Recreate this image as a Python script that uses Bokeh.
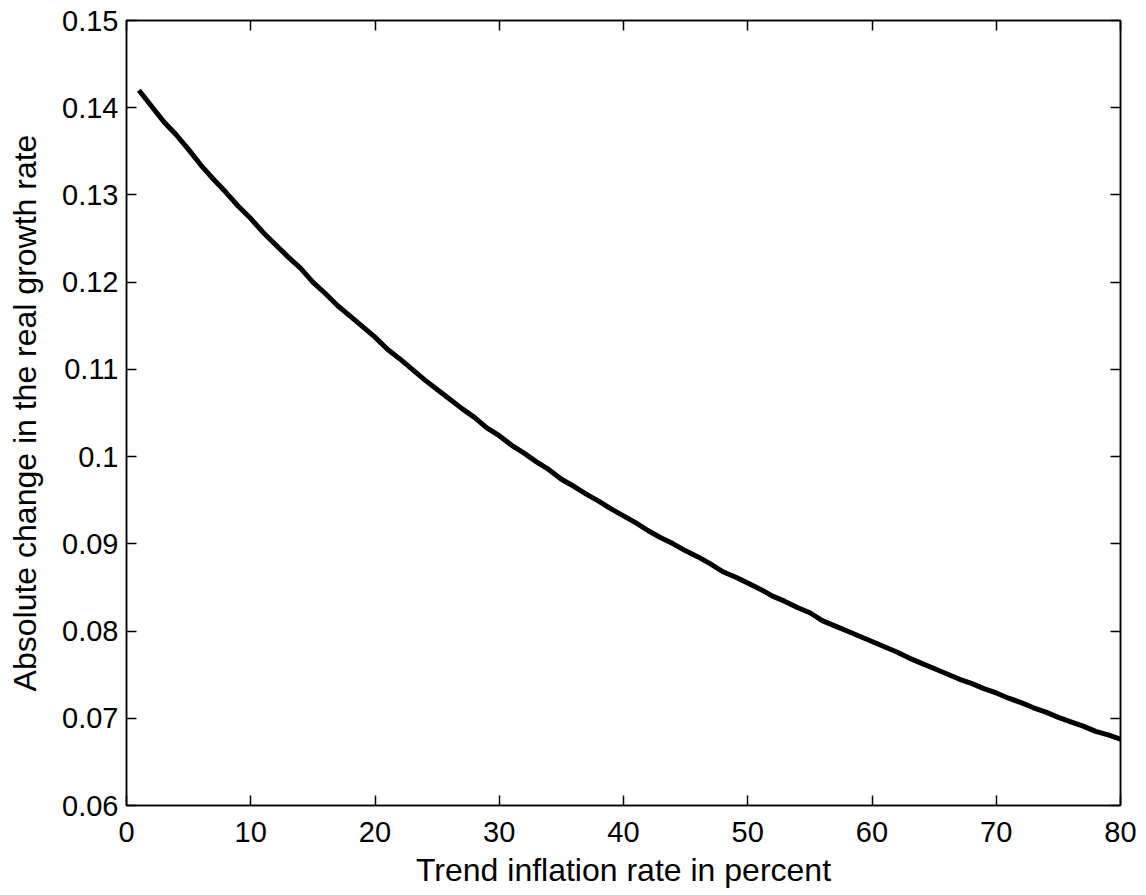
from bokeh.plotting import figure
from bokeh.models import LinearAxis, FixedTicker, CustomJSTickFormatter, Range1d, CustomLabelingPolicy
from bokeh.embed import file_html
from bokeh.resources import INLINE

# Data
inflation = list(range(1, 81))
growth_change = [
    0.1420, 0.1402, 0.1384, 0.1369, 0.1352, 0.1334, 0.1318, 0.1303, 0.1287, 0.1273,
    0.1257, 0.1243, 0.1229, 0.1216, 0.1200, 0.1187, 0.1173, 0.1161, 0.1149, 0.1137,
    0.1123, 0.1112, 0.1100, 0.1088, 0.1077, 0.1066, 0.1055, 0.1045, 0.1033, 0.1024,
    0.1013, 0.1004, 0.0994, 0.0985, 0.0974, 0.0966, 0.0957, 0.0949, 0.0940, 0.0932,
    0.0924, 0.0915, 0.0907, 0.0900, 0.0892, 0.0885, 0.0877, 0.0868, 0.0862, 0.0855,
    0.0848, 0.0840, 0.0834, 0.0827, 0.0821, 0.0812, 0.0806, 0.0800, 0.0794, 0.0788,
    0.0782, 0.0776, 0.0769, 0.0763, 0.0757, 0.0751, 0.0745, 0.0740, 0.0734, 0.0729,
    0.0723, 0.0718, 0.0712, 0.0707, 0.0701, 0.0696, 0.0691, 0.0685, 0.0681, 0.0676,
]
x_ticks = [0, 10, 20, 30, 40, 50, 60, 70, 80]
y_ticks = [0.06, 0.07, 0.08, 0.09, 0.10, 0.11, 0.12, 0.13, 0.14, 0.15]
x_label = "Trend inflation rate in percent"
y_label = "Absolute change in the real growth rate"

FONT = "Liberation Sans"

p = figure(width=1140, height=890, output_backend="svg", toolbar_location=None,
           x_range=Range1d(0, 80), y_range=Range1d(0.06, 0.15),
           min_border_left=126, min_border_right=20, min_border_top=20, min_border_bottom=85,
           x_axis_label=x_label, y_axis_label=y_label)
p.background_fill_color = "white"
p.border_fill_color = "white"
p.outline_line_color = "black"
p.outline_line_width = 1.5
p.grid.visible = False

p.line(inflation, growth_change, line_color="black", line_width=5)

fmt = CustomJSTickFormatter(code="return String(Math.round(tick*100)/100);")

def style(ax, labels=True):
    ax.axis_line_color = "black"
    ax.axis_line_width = 1.5
    ax.major_tick_in = 10
    ax.major_tick_out = 0
    ax.major_tick_line_color = "black"
    ax.major_tick_line_width = 1.5
    ax.minor_tick_line_color = None
    ax.major_label_text_font = FONT
    ax.major_label_text_color = "black"
    ax.major_label_text_font_size = "29px"
    ax.axis_label_text_font = FONT
    ax.axis_label_text_font_style = "normal"
    ax.axis_label_text_color = "black"
    ax.axis_label_text_font_size = "32px"
    if not labels:
        ax.major_label_policy = CustomLabelingPolicy(
            code="for (const i of indices) indices.unset(i); return indices;")
        ax.major_label_text_font_size = "0px"
        ax.major_label_standoff = 0

xa = p.xaxis[0]
xa.ticker = FixedTicker(ticks=x_ticks)
style(xa)
xa.major_label_standoff = 16
xa.axis_label_standoff = 7

ya = p.yaxis[0]
ya.ticker = FixedTicker(ticks=y_ticks)
ya.formatter = fmt
style(ya)
ya.major_label_standoff = 8
ya.axis_label_standoff = 16

top = LinearAxis(ticker=FixedTicker(ticks=x_ticks))
style(top, labels=False)
p.add_layout(top, "above")

right = LinearAxis(ticker=FixedTicker(ticks=y_ticks))
style(right, labels=False)
p.add_layout(right, "right")

open("out.html", "w").write(file_html(p, INLINE))
